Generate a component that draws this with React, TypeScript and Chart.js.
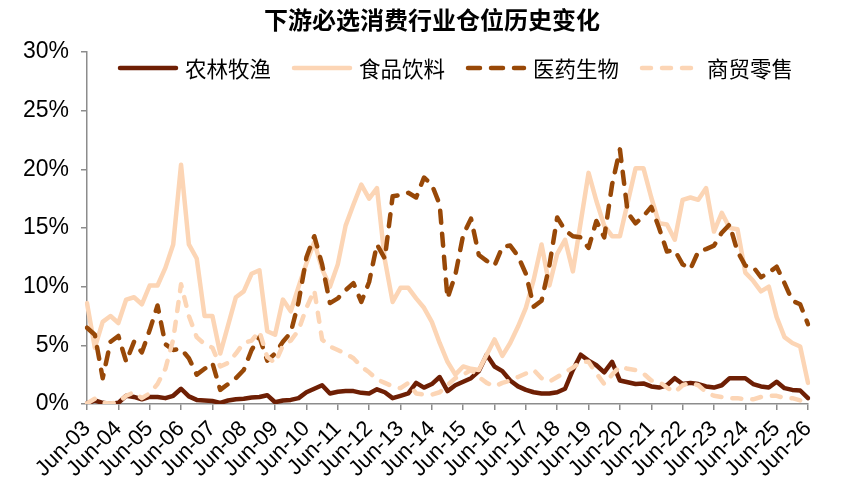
import React, { useEffect, useRef } from "react";
import { Chart, registerables } from "chart.js";

Chart.register(...registerables);

const TITLE = "下游必选消费行业仓位历史变化";
const QUARTER_MONTHS = ["Jun", "Sep", "Dec", "Mar"];
const FIRST_YEAR = 3;
const POINT_COUNT = 93;
const categories: string[] = Array.from({ length: POINT_COUNT }, (_, i) =>
  `${QUARTER_MONTHS[i % 4]}-${String(FIRST_YEAR + Math.floor((i + 1) / 4)).padStart(2, "0")}`
);
const Y_MIN = 0;
const Y_MAX = 30;
const Y_STEP = 5;

const seriesNames = ["农林牧渔", "食品饮料", "医药生物", "商贸零售"];

const agriculture = [
  0.05, 0.3, 0.1, 0.0, 0.1, 0.7, 0.6, 0.4, 0.6, 0.6,
  0.5, 0.7, 1.3, 0.65, 0.35, 0.3, 0.25, 0.1, 0.3, 0.4,
  0.45, 0.55, 0.6, 0.75, 0.15, 0.3, 0.35, 0.5, 1.0, 1.3,
  1.6, 0.9, 1.05, 1.1, 1.1, 0.95, 0.9, 1.25, 1.0, 0.5,
  0.7, 0.9, 1.8, 1.4, 1.7, 2.3, 1.1, 1.6, 1.9, 2.2,
  2.8, 4.2, 3.2, 2.8, 2.0, 1.5, 1.2, 1.0, 0.9, 0.9,
  1.0, 1.3, 2.9, 4.2, 3.7, 3.3, 2.7, 3.6, 2.0, 1.85,
  1.7, 1.75, 1.5, 1.4, 1.6, 2.2, 1.7, 1.8, 1.7, 1.5,
  1.4, 1.6, 2.2, 2.2, 2.2, 1.7, 1.5, 1.4, 1.9, 1.35,
  1.2, 1.15, 0.5,
];

const foodBeverage = [
  8.6, 4.8, 7.0, 7.5, 6.9, 8.9, 9.1, 8.5, 10.1, 10.1,
  11.6, 13.6, 20.4, 13.6, 12.4, 7.5, 7.5, 4.3, 6.7, 9.1,
  9.6, 11.1, 11.4, 6.2, 5.9, 8.9, 7.9, 10.0, 12.0, 13.8,
  11.5, 10.0, 11.9, 15.2, 17.0, 18.7, 17.5, 18.4, 12.3, 8.7,
  9.9, 9.9, 9.0, 8.2, 7.0, 5.2, 3.6, 2.5, 3.2, 3.0,
  2.9, 4.2, 5.5, 4.1, 5.2, 6.6, 8.2, 10.6, 13.6, 10.1,
  12.8, 14.0, 11.3, 15.5, 19.7, 17.3, 15.2, 14.3, 14.3, 17.2,
  20.1, 20.1, 17.6, 15.4, 15.3, 14.0, 17.4, 17.6, 17.4, 18.4,
  14.7, 16.3, 15.0, 14.9, 11.2, 10.5, 9.6, 10.0, 7.4, 5.7,
  5.2, 4.9, 1.8,
];

const pharma = [
  6.5, 5.9, 2.2, 5.3, 5.8, 3.6, 5.3, 4.4, 6.3, 8.4,
  5.1, 4.6, 4.7, 3.9, 2.5, 3.0, 3.5, 1.2, 1.7, 2.2,
  2.9, 4.6, 5.7, 3.7, 4.3, 5.3, 6.1, 8.7, 12.5, 14.3,
  11.9, 8.6, 9.0, 9.7, 10.3, 8.7, 10.4, 13.6, 12.4, 17.7,
  17.8, 18.0, 17.6, 19.3, 18.7, 17.0, 9.0, 11.0, 14.4, 15.8,
  12.7, 12.2, 11.8, 13.4, 13.5, 12.6, 11.1, 8.3, 8.8, 11.8,
  15.9, 14.8, 14.3, 14.2, 13.3, 15.6, 14.2, 18.7, 21.7, 16.3,
  15.4, 16.0, 16.8, 15.0, 13.0, 13.1, 11.9, 11.5, 13.0, 13.2,
  13.5, 14.6, 15.3, 13.0, 11.8, 11.7, 10.8, 11.2, 11.7, 10.3,
  8.8, 8.5, 6.8,
];

const retail = [
  0.05, 0.45, 0.1, 0.05, 0.15, 0.7, 1.0, 0.5, 0.9, 1.7,
  3.0, 5.5, 10.2, 7.5, 5.7, 5.1, 4.8, 3.2, 3.5, 4.3,
  5.2, 5.4, 6.2, 4.0, 3.5, 5.0, 5.4, 6.3, 8.2, 9.7,
  5.5, 4.9, 4.6, 4.3, 3.9, 3.2, 2.7, 2.1, 1.8, 1.5,
  1.35, 1.8, 0.9, 0.8, 0.8, 1.0, 1.6, 2.2, 2.5, 2.9,
  2.3, 1.8, 1.5, 1.8, 2.0, 2.3, 2.6, 2.9, 2.2, 1.9,
  2.3, 2.7, 3.1, 3.6, 3.6, 2.6, 1.7, 2.5, 3.2, 3.0,
  2.9, 2.6, 2.0, 1.9, 1.4, 1.0, 1.6, 1.8, 1.6, 1.0,
  0.7, 0.6, 0.5, 0.5, 0.4, 0.4, 0.6, 0.7, 0.7, 0.5,
  0.5, 0.3, 0.2,
];

const COLOR_DARK = "#6E1F04";
const COLOR_LIGHT = "#FCD5B5";
const COLOR_BROWN = "#984807";
const AXIS_COLOR = "#8C8C8C";

const overlayPlugin = {
  id: "overlay",
  afterDraw(chart: any) {
    const ctx = chart.ctx;
    ctx.save();
    ctx.fillStyle = "#000";
    ctx.font = 'bold 24px "Noto Sans CJK SC"';
    ctx.textAlign = "center";
    ctx.textBaseline = "middle";
    ctx.fillText(TITLE, 432, 20);

    ctx.font = '21.5px "Noto Sans CJK SC"';
    ctx.textAlign = "left";
    let x = 118;
    const y = 68;
    chart.data.datasets.forEach((ds: any) => {
      ctx.beginPath();
      ctx.strokeStyle = ds.borderColor;
      ctx.lineWidth = ds.borderWidth;
      ctx.lineCap = ds.borderCapStyle || "butt";
      ctx.setLineDash(ds.borderDash || []);
      ctx.moveTo(x + 2, y);
      ctx.lineTo(x + 58, y);
      ctx.stroke();
      ctx.setLineDash([]);
      ctx.fillStyle = "#000";
      ctx.fillText(ds.label, x + 67, y + 1);
      x += 67 + ctx.measureText(ds.label).width + 21;
    });
    ctx.restore();
  },
};

export default function App() {
  const ref = useRef<HTMLCanvasElement | null>(null);

  useEffect(() => {
    if (!ref.current) return;
    const common = {
      pointRadius: 0,
      pointHoverRadius: 0,
      tension: 0,
      fill: false,
      borderWidth: 4.5,
      borderJoinStyle: "round" as const,
      backgroundColor: "transparent",
    };
    const chart = new Chart(ref.current, {
      type: "line",
      data: {
        labels: categories,
        datasets: [
          { ...common, label: seriesNames[0], data: agriculture, borderColor: COLOR_DARK, borderCapStyle: "round", order: 4 },
          { ...common, label: seriesNames[1], data: foodBeverage, borderColor: COLOR_LIGHT, borderCapStyle: "round", order: 3 },
          { ...common, label: seriesNames[2], data: pharma, borderColor: COLOR_BROWN, borderDash: [12, 11], borderCapStyle: "round", order: 2 },
          { ...common, label: seriesNames[3], data: retail, borderColor: COLOR_LIGHT, borderDash: [9, 11], borderCapStyle: "round", order: 1 },
        ] as any,
      },
      options: {
        animation: false,
        responsive: false,
        devicePixelRatio: 1,
        layout: { padding: { top: 52, right: 33, left: 0, bottom: 0 } },
        plugins: {
          legend: { display: false },
          title: { display: false },
          tooltip: { enabled: false },
        },
        scales: {
          x: {
            type: "category",
            offset: false,
            afterFit: (scale: any) => {
              scale.height = 91;
            },
            grid: {
              display: true,
              drawOnChartArea: false,
              drawTicks: true,
              tickLength: 6,
              color: AXIS_COLOR,
              lineWidth: 1.5,
            },
            border: { display: true, color: AXIS_COLOR, width: 1.5 },
            ticks: {
              autoSkip: false,
              maxRotation: 45,
              minRotation: 45,
              padding: 6,
              color: "#000",
              font: { family: '"Liberation Sans", Arial, sans-serif', size: 22 },
              callback: (_v: any, index: number) => (index % 4 === 0 ? categories[index] : null),
            },
          },
          y: {
            min: Y_MIN,
            max: Y_MAX,
            afterFit: (scale: any) => {
              scale.width = 87;
            },
            grid: {
              display: true,
              drawOnChartArea: false,
              drawTicks: true,
              tickLength: 6,
              color: AXIS_COLOR,
              lineWidth: 1.5,
            },
            border: { display: true, color: AXIS_COLOR, width: 1.5 },
            ticks: {
              stepSize: Y_STEP,
              padding: 12,
              color: "#000",
              font: { family: '"Liberation Sans", Arial, sans-serif', size: 23 },
              callback: (v: any) => `${v}%`,
            },
          },
        },
      },
      plugins: [overlayPlugin],
    });
    return () => chart.destroy();
  }, []);

  return (
    <div style={{ position: "fixed", left: 0, top: 0, width: 841, height: 495, background: "#fff" }}>
      <canvas ref={ref} width={841} height={495} style={{ width: 841, height: 495, display: "block" }} />
    </div>
  );
}
